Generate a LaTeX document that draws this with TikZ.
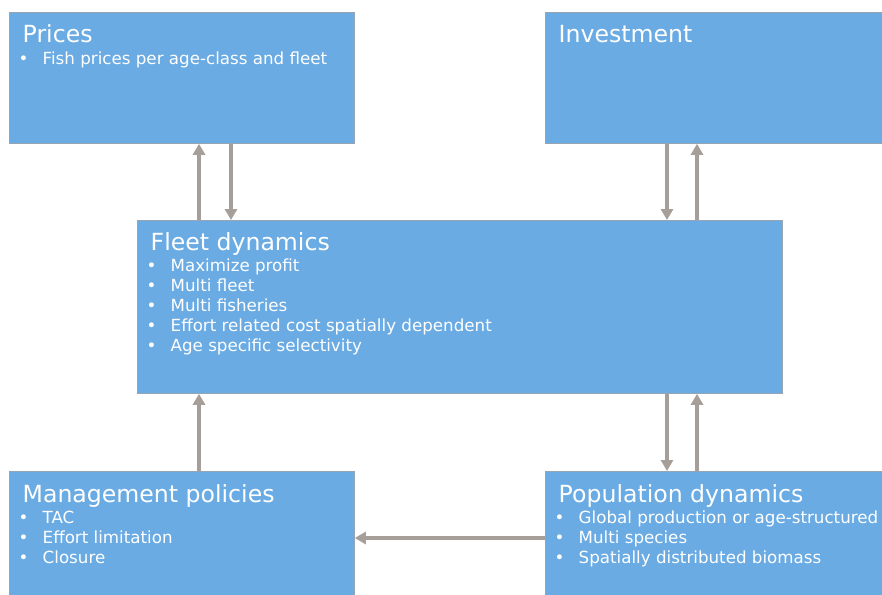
\documentclass[tikz,border=0pt]{standalone}
\usepackage{fontspec}
\setmainfont{DejaVu Sans}
\usetikzlibrary{arrows.meta}
\definecolor{boxblue}{RGB}{106,171,227}
\definecolor{boxedge}{RGB}{150,165,180}
\definecolor{arrgray}{RGB}{166,158,153}
\tikzset{
  box/.style={rectangle, fill=boxblue, draw=boxedge, line width=0.8pt, anchor=north west, inner sep=0pt},
  ttl/.style={anchor=base west, inner sep=0pt, text=white, font=\fontsize{23.6}{28}\selectfont},
  itm/.style={anchor=base west, inner sep=0pt, text=white, font=\fontsize{16.7}{20}\selectfont},
  dotb/.style={anchor=base, inner sep=0pt, text=white, font=\fontsize{16.7}{20}\selectfont},
  arr/.style={draw=arrgray, line width=4pt, -{Triangle[width=12pt,length=11pt]}, shorten >=0pt}
}
\newcommand\mkitems[5]{%
  \node[ttl] (#5-t) at (#1,#2) {#3};
  \foreach \t [count=\i] in {#4} {
    \node[dotb] (#5-b\i) at ({#1+1},{#2+1.5+20*\i}) {•};
    \node[itm] (#5-i\i) at ({#1+20},{#2+1.5+20*\i}) {\t};
  }
}
\begin{document}
\begin{tikzpicture}[x=1pt,y=-1pt]
\clip (0,0) rectangle (882,594);
\fill[white] (0,0) rectangle (882,594);
% boxes
\node[box, minimum width=345pt, minimum height=131pt] (prices) at (9,12) {};
\node[box, minimum width=345pt, minimum height=131pt] (invest) at (545,12) {};
\node[box, minimum width=645pt, minimum height=173pt] (fleet) at (137,220) {};
\node[box, minimum width=345pt, minimum height=140pt] (mgmt) at (9,471) {};
\node[box, minimum width=345pt, minimum height=140pt] (pop) at (545,471) {};
% texts
\mkitems{22.5}{43}{Prices}{Fish prices per age-class and fleet}{pr}
\node[ttl] (inv-t) at (558.5,43) {Investment};
\mkitems{150.5}{250}{Fleet dynamics}{Maximize profit,Multi fleet,Multi fisheries,Effort related cost spatially dependent,Age specific selectivity}{fl}
\mkitems{22.5}{502}{Management policies}{TAC,Effort limitation,Closure}{mg}
\mkitems{558.5}{502}{Population dynamics}{Global production or age-structured,Multi species,Spatially distributed biomass}{po}
% guide coordinates
\coordinate (xa) at (199,0);
\coordinate (xb) at (231,0);
\coordinate (xc) at (667,0);
\coordinate (xd) at (697,0);
\coordinate (ya) at (0,538);
% connectors
\draw[arr] (fleet.north -| xa) -- (prices.south -| xa);
\draw[arr] (prices.south -| xb) -- (fleet.north -| xb);
\draw[arr] (invest.south -| xc) -- (fleet.north -| xc);
\draw[arr] (fleet.north -| xd) -- (invest.south -| xd);
\draw[arr] (fleet.south -| xc) -- (pop.north -| xc);
\draw[arr] (pop.north -| xd) -- (fleet.south -| xd);
\draw[arr] (mgmt.north -| xa) -- (fleet.south -| xa);
\draw[arr] (pop.west |- ya) -- (mgmt.east |- ya);
\end{tikzpicture}
\end{document}
